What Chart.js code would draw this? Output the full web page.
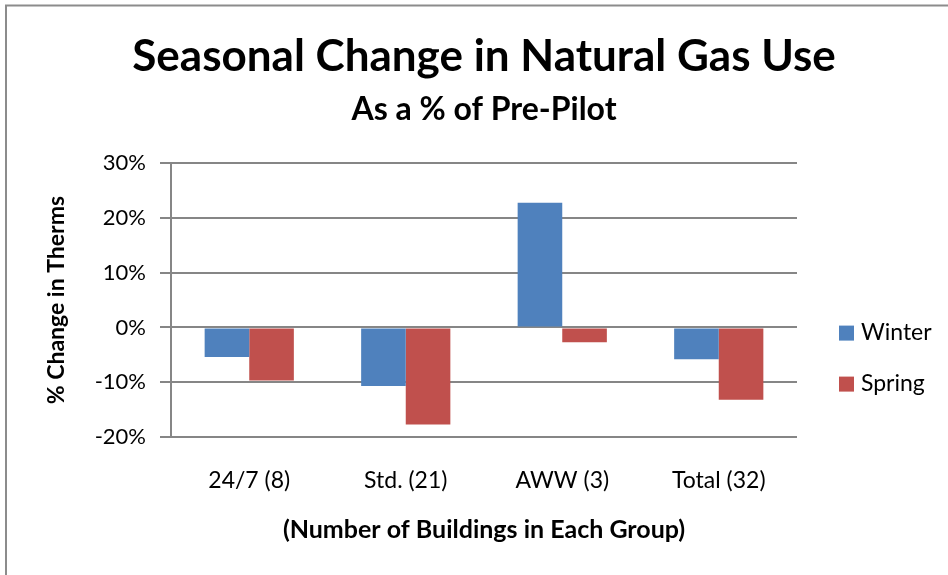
<!DOCTYPE html>
<html>
<head>
<meta charset="utf-8">
<script src="https://cdn.jsdelivr.net/npm/chart.js@4/dist/chart.umd.min.js"></script>
<style>
  html, body { margin: 0; padding: 0; background: #fff; }
  #wrap { width: 948px; height: 575px; position: relative; }
</style>
</head>
<body>
<div id="wrap"><canvas id="c" width="948" height="575"></canvas></div>
<script>
const categories = ["24/7 (8)", "Std. (21)", "AWW (3)", "Total (32)"];
const seriesNames = ["Winter", "Spring"];
const winterValues = [-5.4, -10.7, 22.8, -5.8];
const springValues = [-9.7, -17.7, -2.7, -13.2];
const yTicks = [-20, -10, 0, 10, 20, 30];

const colors = ["#4F81BD", "#C0504D"];
const gridColor = "#868686";

const frameAndLegend = {
  id: "frameAndLegend",
  afterDraw(chart) {
    const ctx = chart.ctx;
    const ca = chart.chartArea;
    ctx.save();
    // outer frame (top and left edges visible)
    ctx.strokeStyle = "#8c8c8c";
    ctx.lineWidth = 2;
    ctx.beginPath();
    ctx.moveTo(6, chart.height + 5);
    ctx.lineTo(6, 5.5);
    ctx.lineTo(chart.width + 5, 5.5);
    ctx.stroke();
    // legend
    const mid = (ca.top + ca.bottom) / 2;
    const x0 = ca.right + 42;
    ctx.font = "23px Lato";
    ctx.textBaseline = "middle";
    ctx.textAlign = "left";
    chart.data.datasets.forEach((ds, i) => {
      const yc = mid + 33 + i * 51;
      ctx.fillStyle = ds.backgroundColor;
      ctx.fillRect(x0, yc - 7.5, 15, 15);
      ctx.fillStyle = "#000";
      ctx.fillText(ds.label, x0 + 22, yc - 1);
    });
    ctx.restore();
  }
};

new Chart(document.getElementById("c"), {
  type: "bar",
  data: {
    labels: categories,
    datasets: [
      { label: seriesNames[0], data: winterValues, backgroundColor: colors[0], yAxisID: "y" },
      { label: seriesNames[1], data: springValues, backgroundColor: colors[1], yAxisID: "y" }
    ]
  },
  options: {
    responsive: false,
    animation: false,
    devicePixelRatio: 1,
    layout: { padding: { left: 20, right: 0, top: 0, bottom: 0 } },
    datasets: { bar: { categoryPercentage: 0.57, barPercentage: 1.0 } },
    plugins: {
      legend: { display: false },
      tooltip: { enabled: false },
      title: {
        display: true,
        text: "Seasonal Change in Natural Gas Use",
        color: "#000",
        font: { family: "Lato", size: 44, weight: "bold" },
        padding: { top: 30, bottom: 4 }
      },
      subtitle: {
        display: true,
        text: "As a % of Pre-Pilot",
        color: "#000",
        font: { family: "Lato", size: 32, weight: "bold" },
        padding: { top: 4, bottom: 34 }
      }
    },
    scales: {
      x: {
        grid: { display: false, drawTicks: false },
        border: { display: false },
        ticks: { color: "#000", font: { family: "Lato", size: 23 }, padding: 30 },
        title: {
          display: true,
          text: "(Number of Buildings in Each Group)",
          color: "#000",
          font: { family: "Lato", size: 25, weight: "bold" },
          padding: { top: 0, bottom: 30 }
        },
        afterFit(scale) { scale.height = 138; }
      },
      y: {
        min: -20,
        max: 30,
        afterBuildTicks(scale) { scale.ticks = yTicks.map(v => ({ value: v })); },
        ticks: {
          color: "#000",
          font: { family: "Lato", size: 22 },
          padding: 14,
          callback: v => v + "%"
        },
        grid: { color: gridColor, lineWidth: 2, tickLength: 11, tickColor: gridColor },
        border: { display: true, color: gridColor, width: 2 },
        title: {
          display: true,
          text: "% Change in Therms",
          color: "#000",
          font: { family: "Lato", size: 23, weight: "bold" },
          padding: { top: 23, bottom: 0 }
        },
        afterFit(scale) { scale.width = 151; }
      },
      yR: {
        position: "right",
        display: true,
        grid: { display: false, drawTicks: false },
        border: { display: false },
        ticks: { display: false },
        afterFit(scale) { scale.width = 151; }
      }
    }
  },
  plugins: [frameAndLegend]
});
</script>
</body>
</html>
